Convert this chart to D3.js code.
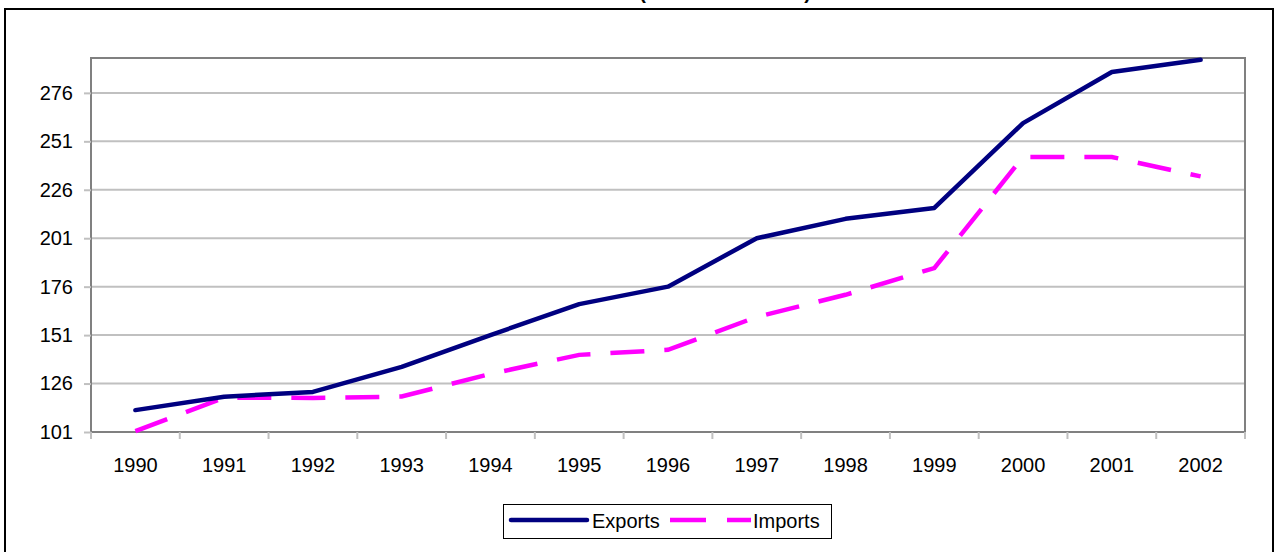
<!DOCTYPE html>
<html>
<head>
<meta charset="utf-8">
<script src="https://cdn.jsdelivr.net/npm/d3@7"></script>
<style>
  body { margin: 0; background: #fff; }
  svg { font-family: "Liberation Sans", Arial, sans-serif; }
</style>
</head>
<body>
<div id="chart"></div>
<script>
"use strict"

// chart data
const years = ["1990", "1991", "1992", "1993", "1994", "1995", "1996",
  "1997", "1998", "1999", "2000", "2001", "2002"];
const exportsIdx = [112.3, 119.2, 121.7, 134.6, 151, 167, 176, 201, 211, 216.6, 260.4, 286.8, 293.1];
const importsIdx = [101.5, 118.7, 118.6, 119.3, 131, 140.8, 143.4, 160.4, 171.8, 185.6, 242.9, 242.9, 232.9];
const yTicks = [101, 126, 151, 176, 201, 226, 251, 276];

window.addEventListener("load", drawChart);

function drawChart() {
  let width = 1276, height = 552;
  let plot = { left: 91, right: 1245, top: 58, bottom: 432 };

  let svg = d3.select("#chart")
    .append("svg")
      .attr("width", width)
      .attr("height", height);

  // outer chart frame
  svg.append("rect")
    .attr("x", 5).attr("y", 9)
    .attr("width", 1268).attr("height", 560)
    .attr("fill", "#fff")
    .attr("stroke", "#000")
    .attr("stroke-width", 2);

  // title (only its lowest pixels show at the top edge)
  svg.append("text")
    .attr("x", 811).attr("y", 15)
    .attr("text-anchor", "end")
    .style("font-size", "20px")
    .style("font-weight", "bold")
    .text("Trade Volume Index (Index 1990 = 100)")
    .attr("transform", "translate(0,-16)");

  let x = d3.scaleBand()
    .domain(years)
    .range([plot.left, plot.right]);

  let y = d3.scaleLinear()
    .domain([101, 294])
    .range([plot.bottom, plot.top]);

  // gridlines
  svg.append("g")
    .selectAll("line")
    .data(yTicks)
    .enter()
    .append("line")
      .attr("x1", plot.left).attr("x2", plot.right)
      .attr("y1", d => y(d)).attr("y2", d => y(d))
      .attr("stroke", "#c0c0c0")
      .attr("stroke-width", 2);

  // plot area border
  svg.append("rect")
    .attr("x", plot.left).attr("y", plot.top)
    .attr("width", plot.right - plot.left)
    .attr("height", plot.bottom - plot.top)
    .attr("fill", "none")
    .attr("stroke", "#808080")
    .attr("stroke-width", 2);

  // y axis
  let yAxis = svg.append("g")
    .attr("transform", `translate(${plot.left},0)`)
    .call(d3.axisLeft(y).tickValues(yTicks).tickSize(7).tickPadding(11));
  yAxis.attr("font-size", null);
  yAxis.select(".domain").remove();
  yAxis.selectAll("line").attr("stroke", "#c0c0c0").attr("stroke-width", 2);
  yAxis.selectAll("text")
    .style("font-size", "20px")
    .attr("fill", "#000");

  // x axis, ticks between categories
  let xAxis = svg.append("g")
    .attr("transform", `translate(0,${plot.bottom})`)
    .call(d3.axisBottom(x).tickSize(0).tickPadding(26));
  xAxis.attr("font-size", null);
  xAxis.select(".domain").remove();
  xAxis.selectAll("text")
    .style("font-size", "20px")
    .attr("fill", "#000");
  let bounds = years.map(d => x(d)).concat([plot.right]);
  svg.append("g")
    .selectAll("line")
    .data(bounds)
    .enter()
    .append("line")
      .attr("x1", d => d).attr("x2", d => d)
      .attr("y1", plot.bottom).attr("y2", plot.bottom + 7)
      .attr("stroke", "#c0c0c0")
      .attr("stroke-width", 2);

  let cx = d => x(d) + x.bandwidth() / 2;

  let line = d3.line()
    .x((d, i) => cx(years[i]))
    .y(d => y(d));

  svg.append("path")
    .datum(importsIdx)
    .attr("d", line)
    .attr("fill", "none")
    .attr("stroke", "#ff00ff")
    .attr("stroke-width", 4.5)
    .attr("stroke-dasharray", "34,20");

  svg.append("path")
    .datum(exportsIdx)
    .attr("d", line)
    .attr("fill", "none")
    .attr("stroke", "#000080")
    .attr("stroke-width", 4.5)
    .attr("stroke-linejoin", "round")
    .attr("stroke-linecap", "round");

  // legend
  let legend = svg.append("g");
  legend.append("rect")
    .attr("x", 503.5).attr("y", 504.5)
    .attr("width", 328).attr("height", 34)
    .attr("fill", "#fff")
    .attr("stroke", "#000")
    .attr("stroke-width", 1);
  legend.append("line")
    .attr("x1", 511).attr("x2", 587)
    .attr("y1", 520).attr("y2", 520)
    .attr("stroke", "#000080")
    .attr("stroke-width", 4.5)
    .attr("stroke-linecap", "round");
  legend.append("text")
    .attr("x", 592).attr("y", 528)
    .style("font-size", "20px")
    .text("Exports");
  legend.append("line")
    .attr("x1", 670).attr("x2", 751)
    .attr("y1", 520).attr("y2", 520)
    .attr("stroke", "#ff00ff")
    .attr("stroke-width", 4.5)
    .attr("stroke-dasharray", "36,21");
  legend.append("text")
    .attr("x", 753).attr("y", 528)
    .style("font-size", "20px")
    .text("Imports");
}
</script>
</body>
</html>
